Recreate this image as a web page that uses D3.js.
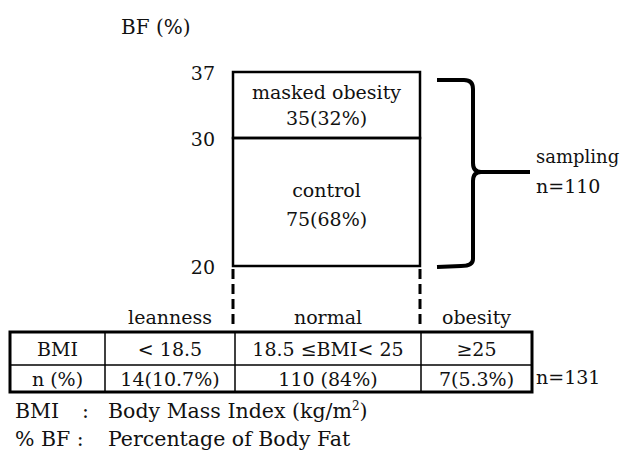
<!DOCTYPE html>
<html>
<head>
<meta charset="utf-8">
<script src="https://cdn.jsdelivr.net/npm/d3@7"></script>
<style>
  body { margin: 0; background: #fff; }
</style>
</head>
<body>
<script>
    // body fat axis ticks (%)
    var bfTicks = [20, 30, 37];

    // groups inside the sampled box (bottom to top)
    var groupNames = ["control", "masked obesity"];
    var groupLow = [20, 30];
    var groupHigh = [30, 37];
    var groupCounts = [75, 35];
    var groupPct = ["68%", "32%"];
    var sampleN = 110;

    // BMI table
    var bmiCats = ["leanness", "normal", "obesity"];
    var bmiRanges = ["< 18.5", "18.5 \u2264BMI< 25", "\u226525"];
    var bmiCounts = ["14(10.7%)", "110 (84%)", "7(5.3%)"];
    var rowLabels = ["BMI", "n (%)"];
    var totalN = 131;

    var width = 623, height = 450;
    var fs = 19;
    var serif = "'DejaVu Serif', 'Liberation Serif', serif";

    var svg = d3.select("body").append("svg")
        .attr("width", width)
        .attr("height", height)
        .style("font-family", serif);

    // column edges of the table, first column is the row label
    var colEdges = [10, 105, 235, 421, 532];
    var rowEdges = [332, 365, 392];

    // non linear in the original figure, so use a polylinear scale
    var y = d3.scaleLinear()
        .domain([20, 30, 37])
        .range([266, 138, 72]);

    var boxLeft = colEdges[2] - 2, boxRight = colEdges[3] - 1;

    function label(x, yy, str, anchor, size) {
        return svg.append("text")
            .attr("x", x)
            .attr("y", yy)
            .attr("text-anchor", anchor || "middle")
            .style("font-family", serif)
            .style("font-size", (size || fs) + "px")
            .attr("fill", "#111")
            .text(str);
    }

    label(121, 34, "BF (%)", "start", 20);

    // y axis labels only
    var yAxis = d3.axisLeft(y).tickValues(bfTicks).tickSize(0).tickPadding(0);
    var gy = svg.append("g")
        .attr("transform", "translate(" + (boxLeft - 18) + ",0)")
        .call(yAxis);
    gy.attr("font-family", null).attr("font-size", null);
    gy.select(".domain").remove();
    gy.selectAll("text")
        .style("font-size", fs + "px")
        .style("font-family", serif)
        .attr("fill", "#111")
        .attr("x", 0)
        .attr("dy", "0.4em");

    // group boxes
    groupNames.forEach(function (name, i) {
        svg.append("rect")
            .attr("x", boxLeft)
            .attr("y", y(groupHigh[i]))
            .attr("width", boxRight - boxLeft)
            .attr("height", y(groupLow[i]) - y(groupHigh[i]))
            .attr("fill", "none")
            .attr("stroke", "#000")
            .attr("stroke-width", 2.5);

        var cx = (boxLeft + boxRight) / 2;
        var cy = (y(groupLow[i]) + y(groupHigh[i])) / 2;
        // control text sits a bit lower in its box
        if (i == 0) {
            label(cx, cy - 5, name);
            label(cx, cy + 24, groupCounts[i] + "(" + groupPct[i] + ")");
        } else {
            label(cx, cy - 6, name);
            label(cx, cy + 20, groupCounts[i] + "(" + groupPct[i] + ")");
        }
    });

    // dashed lines down to the table
    [boxLeft, boxRight].forEach(function (x) {
        svg.append("line")
            .attr("x1", x).attr("x2", x)
            .attr("y1", y(20) + 3).attr("y2", rowEdges[0] - 4)
            .attr("stroke", "#000")
            .attr("stroke-width", 3)
            .attr("stroke-dasharray", "10,5");
    });

    // curly brace for the sampled range
    var bx = 473, bTop = y(37) + 8, bBot = y(20), bMid = 172;
    var brace = d3.path();
    brace.moveTo(437, bTop);
    brace.lineTo(bx - 9, bTop);
    brace.quadraticCurveTo(bx, bTop, bx, bTop + 9);
    brace.lineTo(bx, bMid - 9);
    brace.quadraticCurveTo(bx, bMid, bx + 8, bMid);
    brace.lineTo(530, bMid);
    brace.moveTo(bx + 8, bMid);
    brace.quadraticCurveTo(bx, bMid, bx, bMid + 9);
    brace.lineTo(bx, bBot - 7);
    brace.quadraticCurveTo(bx, bBot, bx - 12, bBot);
    brace.lineTo(437, bBot + 1);
    svg.append("path")
        .attr("d", brace.toString())
        .attr("fill", "none")
        .attr("stroke", "#000")
        .attr("stroke-width", 4);

    label(536, 163, "sampling", "start", 18);
    label(536, 193, "n=" + sampleN, "start");

    // category labels above the table
    bmiCats.forEach(function (c, i) {
        label((colEdges[i + 1] + colEdges[i + 2]) / 2, 324, c);
    });

    // table grid
    svg.append("rect")
        .attr("x", colEdges[0]).attr("y", rowEdges[0])
        .attr("width", colEdges[4] - colEdges[0])
        .attr("height", rowEdges[2] - rowEdges[0])
        .attr("fill", "none").attr("stroke", "#000").attr("stroke-width", 3);
    svg.append("line")
        .attr("x1", colEdges[0]).attr("x2", colEdges[4])
        .attr("y1", rowEdges[1]).attr("y2", rowEdges[1])
        .attr("stroke", "#000").attr("stroke-width", 1.5);
    colEdges.slice(1, 4).forEach(function (x) {
        svg.append("line")
            .attr("x1", x).attr("x2", x)
            .attr("y1", rowEdges[0]).attr("y2", rowEdges[2])
            .attr("stroke", "#000").attr("stroke-width", 1.5);
    });

    // table cells
    var rows = [[rowLabels[0]].concat(bmiRanges), [rowLabels[1]].concat(bmiCounts)];
    rows.forEach(function (r, j) {
        var cy = (rowEdges[j] + rowEdges[j + 1]) / 2 + 7;
        r.forEach(function (t, i) {
            label((colEdges[i] + colEdges[i + 1]) / 2, cy, t);
        });
    });
    label(536, 384, "n=" + totalN, "start");

    // footnotes
    var fn = 20.5;
    label(15, 418, "BMI", "start", fn);
    label(82, 418, ":", "start", fn);
    var t = svg.append("text")
        .attr("x", 108).attr("y", 418)
        .style("font-family", serif)
        .style("font-size", fn + "px")
        .attr("fill", "#111");
    t.append("tspan").text("Body Mass Index (kg/m");
    t.append("tspan").attr("dy", -8).style("font-size", "12px").text("2");
    t.append("tspan").attr("dy", 8).text(")");

    label(15, 446, "% BF :", "start", fn);
    label(108, 446, "Percentage of Body Fat", "start", fn);
</script>
</body>
</html>
